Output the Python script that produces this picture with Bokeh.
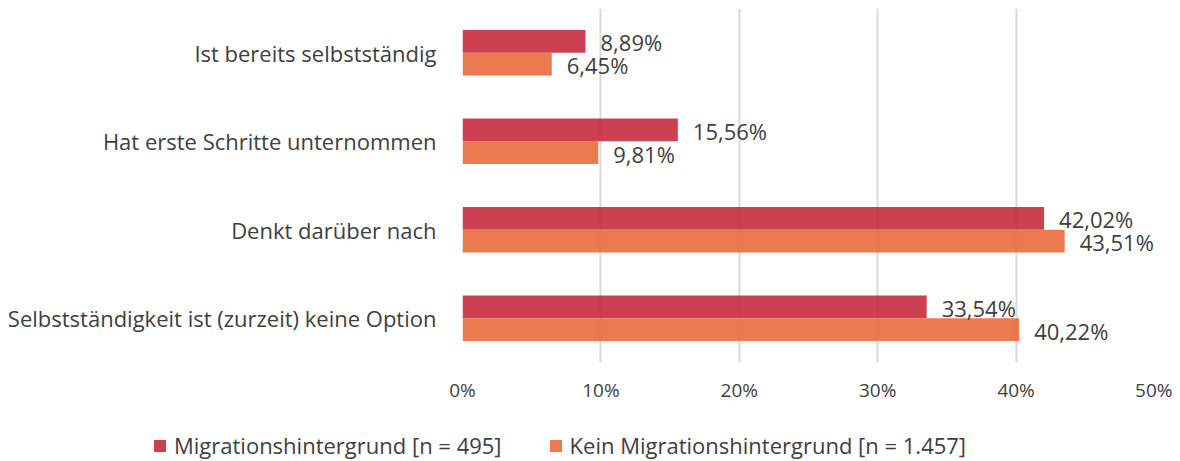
from bokeh.plotting import figure
from bokeh.layouts import column
from bokeh.models import (ColumnDataSource, FactorRange, Range1d, FixedTicker,
                          PrintfTickFormatter, Legend, LegendItem)
from bokeh.transform import dodge
from bokeh.core.properties import value
from bokeh.embed import file_html
from bokeh.resources import INLINE

categories = ["Ist bereits selbstständig", "Hat erste Schritte unternommen",
              "Denkt darüber nach", "Selbstständigkeit ist (zurzeit) keine Option"]
migration = [8.89, 15.56, 42.02, 33.54]
kein_migration = [6.45, 9.81, 43.51, 40.22]
series_names = ["Migrationshintergrund [n = 495]", "Kein Migrationshintergrund [n = 1.457]"]
x_ticks = [0, 10, 20, 30, 40, 50]

def fmt(v):
    return f"{v:.2f}".replace(".", ",") + "%"

src = ColumnDataSource(dict(
    cat=categories,
    mig=migration,
    kein=kein_migration,
    mig_lbl=[fmt(v) for v in migration],
    kein_lbl=[fmt(v) for v in kein_migration],
))

FONT = "Open Sans"
TXT = "#404040"
RED = "#C72B3F"
ORANGE = "#EA6B3D"

W = 1172
p = figure(width=W, height=405, output_backend="svg", toolbar_location=None,
           y_range=FactorRange(*reversed(categories)), x_range=Range1d(0, 50),
           min_border_left=462, min_border_right=18, min_border_top=8, min_border_bottom=41)
p.outline_line_color = None
p.background_fill_color = None
p.border_fill_color = None

bw = 0.258
p.hbar(y=dodge("cat", bw / 2, range=p.y_range), right="mig", left=0, height=bw,
       source=src, fill_color=RED, fill_alpha=0.9, line_color=None)
p.hbar(y=dodge("cat", -bw / 2, range=p.y_range), right="kein", left=0, height=bw,
       source=src, fill_color=ORANGE, fill_alpha=0.9, line_color=None)

p.text(x="mig", y=dodge("cat", bw / 2 - 0.01, range=p.y_range), text="mig_lbl", source=src,
       x_offset=15, text_baseline="middle", text_align="left",
       text_font=value(FONT), text_font_size="22px", text_color=TXT)
p.text(x="kein", y=dodge("cat", -bw / 2 - 0.01, range=p.y_range), text="kein_lbl", source=src,
       x_offset=15, text_baseline="middle", text_align="left",
       text_font=value(FONT), text_font_size="22px", text_color=TXT)

# axes
p.xaxis.ticker = FixedTicker(ticks=x_ticks)
p.xaxis.formatter = PrintfTickFormatter(format="%d%%")
p.xaxis.axis_line_color = None
p.xaxis.major_tick_line_color = None
p.xaxis.minor_tick_line_color = None
p.xaxis.major_tick_out = 0
p.xaxis.major_label_standoff = 14
p.xaxis.major_label_text_font = FONT
p.xaxis.major_label_text_font_size = "19px"
p.xaxis.major_label_text_color = TXT

p.yaxis.axis_line_color = None
p.yaxis.major_tick_line_color = None
p.yaxis.minor_tick_line_color = None
p.yaxis.major_tick_out = 0
p.yaxis.major_label_standoff = 26
p.yaxis.major_label_text_font = FONT
p.yaxis.major_label_text_font_size = "22px"
p.yaxis.major_label_text_color = TXT

p.ygrid.grid_line_color = None
p.xgrid.grid_line_color = "#D9D9D9"
p.xgrid.grid_line_width = 2

# legend strip
lg = figure(width=W, height=56, output_backend="svg", toolbar_location=None,
            x_range=Range1d(0, 1), y_range=Range1d(0, 1),
            x_axis_location=None, y_axis_location=None,
            min_border_left=0, min_border_right=0, min_border_top=0, min_border_bottom=0)
lg.frame_align = False
lg.grid.grid_line_color = None
lg.outline_line_color = None
lg.background_fill_color = None
lg.border_fill_color = None
d1 = lg.rect(x=[-10], y=[-10], width=1, height=1, fill_color=RED, fill_alpha=0.9, line_color=None)
d2 = lg.rect(x=[-10], y=[-10], width=1, height=1, fill_color=ORANGE, fill_alpha=0.9, line_color=None)
legend = Legend(items=[LegendItem(label=series_names[0], renderers=[d1]),
                       LegendItem(label=series_names[1], renderers=[d2])],
                orientation="horizontal", location=(152, 1),
                padding=0, margin=0, spacing=46, label_standoff=7,
                glyph_width=15, glyph_height=15,
                label_text_font=FONT, label_text_font_size="22px", label_text_color=TXT,
                border_line_color=None, background_fill_alpha=0)
lg.add_layout(legend, "center")

layout = column(p, lg, spacing=0)
open("out.html", "w").write(file_html(layout, INLINE))
